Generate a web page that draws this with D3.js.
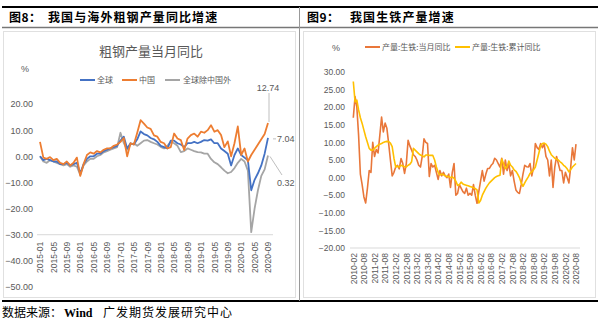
<!DOCTYPE html>
<html><head><meta charset="utf-8">
<script src="https://cdn.jsdelivr.net/npm/d3@7/dist/d3.min.js"></script>
<style>
body{margin:0;background:#fff}
text{font-family:"Liberation Sans",Arial,sans-serif}
.cjk{font-family:"Noto Sans CJK SC","Noto Sans",sans-serif}
</style>
</head><body>
<svg id="c" width="600" height="325"></svg>
<script>
// ---------- Chart 1 data: 粗钢产量当月同比 (2015-01 .. 2020-09) ----------
const fmtM = d3.timeFormat("%Y-%m");
const months1 = d3.timeMonth.range(new Date(2015,0,1), new Date(2020,9,1)).map(fmtM);
const seriesNames1 = ["全球","中国","全球除中国外"];
const global1 = [0,-1.5,-1.0,-1.5,-2.0,-2.0,-3.0,-3.0,-2.5,-3.5,-3.0,-2.5,
  -6.5,-3.0,-1.0,0.0,0.0,1.0,1.0,2.0,2.5,3.0,3.5,4.0,
  6.0,7.5,3.0,5.0,4.5,6.5,9.5,8.5,8.0,7.0,6.5,5.5,
  4.0,3.5,3.0,6.0,6.0,5.0,4.5,3.5,5.0,5.0,5.5,5.0,
  5.5,6.2,6.0,6.5,5.0,5.0,3.0,2.0,1.0,-3.5,0.5,3.0,
  0.5,-0.5,-1.5,-13.0,-9.0,-6.5,-3.5,1.0,7.04];
const china1 = [5.5,-0.5,-1.0,-0.3,-1.5,-1.0,-2.5,-3.0,-2.0,-3.5,-2.5,-0.5,
  -7.5,-3.0,0.5,1.5,1.0,2.0,1.5,2.5,3.0,3.0,4.0,4.5,
  5.5,7.0,0.0,5.0,4.5,9.0,13.8,12.5,11.0,10.5,8.0,7.5,
  5.5,5.0,3.0,3.5,8.7,6.8,6.2,2.4,6.8,8.1,8.7,7.5,
  9.4,9.0,10.0,11.9,9.4,10.0,8.1,3.5,5.7,0.0,5.0,11.4,
  0.5,3.0,-2.0,0.5,2.5,4.5,6.5,8.5,12.74];
const exChina1 = [0,-2.0,-2.5,-1.5,-2.0,-2.5,-3.0,-3.5,-3.0,-4.0,-3.5,-4.0,
  -7.0,-3.5,-2.0,-1.0,-1.0,0.0,0.5,1.5,2.0,2.5,3.0,3.5,
  9.0,5.0,2.5,4.5,5.0,4.0,5.0,6.0,6.2,5.5,5.0,4.5,
  3.6,3.0,4.0,5.5,5.0,4.0,1.6,2.0,3.0,2.5,2.0,1.6,
  1.5,1.0,1.0,-1.0,-2.3,-3.0,-4.2,-5.5,-6.5,-6.0,-4.5,-2.5,
  -1.0,-2.0,-5.5,-29.0,-20.0,-13.0,-7.5,-5.0,0.32];
const yTicks1 = [20,10,0,-10,-20,-30,-40,-50];

// ---------- Chart 2 data: 生铁产量增速 (2010-02 .. 2020-08) ----------
const months2 = d3.timeMonth.range(new Date(2010,1,1), new Date(2020,8,1)).map(fmtM);
const seriesNames2 = ["产量:生铁:当月同比","产量:生铁:累计同比"];
const monthly2 = [17,23,20,12,1,-2,-5.5,-7.2,-3,2,1.5,10,
  6,8,7,12,17.2,13,15.5,14,9.7,5,0.5,1.5,
  3,3.5,2.5,5.4,4,1.2,4,10.6,9,7.8,6.5,6,
  5,3.5,3,6,11,10,9.7,0.3,4,3,3.5,1.5,
  -0.5,2,0.5,1.5,0.5,0,1,-2.8,1.5,4,-5,-4.5,
  -2,-3,-4,-4.5,-3,-5,-4.5,-5,-2,-5,-7.3,-4,
  -1,2,-1,1,2.6,2.6,3.5,4,5.5,5,4,3,
  5.5,1,5,2,4,0.5,2,-1,-3.5,-4.2,-4.5,-2,
  1,3.5,3.1,3,4,0.5,3,9.7,8.5,8,9.7,8.5,
  9.5,6,5,0.5,5,-2.8,3,6,4,2,2,-1.5,
  1.5,0,-1.5,3,8.5,5,9.5];
const cumulative2 = [27.3,21.5,22,19.2,17,15.4,13.5,11.6,10,8.3,7.8,7.8,
  8.3,8.8,9.2,9.5,9.7,10,10.2,10.3,10.2,9.8,8.8,5.5,
  3,3.2,3,3.5,3.3,3.1,3,3.5,3.8,4.5,8.3,7.8,
  7.3,6.8,6.4,6.2,5.9,6.4,6.4,6.3,6.3,6.3,5,3,
  1.5,0.7,1,0.8,0.5,0.3,0.3,0,0.2,-0.2,-1,-2.2,
  -2,-1.3,-1.8,-2,-2.2,-2.3,-2.5,-2.7,-2.9,-3.1,-3.5,-7.2,
  -6.5,-5,-4,-3,-2.2,-1.5,-1,-0.5,0,0.3,0.5,0.7,
  5.3,4,2.5,3,4.7,3.5,3,2.2,1.8,1,0,-1.5,
  -2.5,-1.5,-0.6,0.2,1.2,1.6,2.2,3,5,7,9,9.7,
  9.8,9.5,8.8,7.5,6.5,6,5.5,5.3,5,4.5,4.1,3.5,
  3.1,2.5,1.6,2.3,3,3.5,4];
const yTicks2 = [30,25,20,15,10,5,0,-5,-10,-15,-20];

const svg = d3.select("#c");
const grey = "#595959";

// ---------- frame ----------
svg.append("line").attr("x1",2).attr("x2",598).attr("y1",7).attr("y2",7).attr("stroke","#000").attr("stroke-width",2);
svg.append("line").attr("x1",2).attr("x2",598).attr("y1",27.5).attr("y2",27.5).attr("stroke","#777").attr("stroke-width",1.5);
svg.append("line").attr("x1",2).attr("x2",598).attr("y1",301).attr("y2",301).attr("stroke","#000").attr("stroke-width",2);
svg.append("line").attr("x1",299.5).attr("x2",299.5).attr("y1",7).attr("y2",301).attr("stroke","#999").attr("stroke-width",1);
svg.append("rect").attr("x",3.5).attr("y",31.5).attr("width",292).attr("height",266).attr("fill","none").attr("stroke","#e0e0e0");
svg.append("rect").attr("x",303.5).attr("y",31.5).attr("width",292).attr("height",266).attr("fill","none").attr("stroke","#e0e0e0");

function title(x, t, fs, ls){
  svg.append("text").attr("class","cjk").attr("x",x).attr("y",22).attr("font-size",fs)
    .attr("font-weight","bold").attr("letter-spacing",ls).attr("fill","#000").text(t);
}
title(9,"图8：",12,0.5); title(48,"我国与海外粗钢产量同比增速",12,1.1);
title(307,"图9：",12,0.5); title(350,"我国生铁产量增速",12,1.1);
svg.append("text").attr("class","cjk").attr("x",2).attr("y",317).attr("font-size",12).attr("fill","#000")
  .text("数据来源：").append("tspan").attr("font-family","Liberation Serif").attr("font-weight","bold").attr("dx",2).text("Wind")
svg.append("text").attr("class","cjk").attr("x",103).attr("y",317).attr("font-size",12).attr("letter-spacing",1).attr("fill","#000").text("广发期货发展研究中心");

// ---------- Chart 1 ----------
const x1 = d3.scalePoint().domain(months1).range([40,268]);
const y1 = d3.scaleLinear().domain([-50,20]).range([287,104]);
const g1 = svg.append("g");
g1.append("text").attr("class","cjk").attr("x",151).attr("y",56).attr("text-anchor","middle")
  .attr("font-size",13).attr("fill",grey).text("粗钢产量当月同比");
g1.append("text").attr("x",25).attr("y",72).attr("text-anchor","middle").attr("font-size",9).attr("fill",grey).text("%");
const yAx1 = d3.axisLeft(y1).tickValues(yTicks1).tickFormat(d3.format(".2f")).tickSize(0).tickPadding(0);
g1.append("g").attr("transform","translate(33,0)").call(yAx1)
  .call(g=>g.select(".domain").remove())
  .call(g=>g.selectAll("text").attr("font-size",9).attr("fill",grey).attr("font-family","Liberation Sans Narrow, Liberation Sans"));
const xAx1 = d3.axisBottom(x1).tickValues(months1.filter((d,i)=>i%4===0)).tickSize(0).tickPadding(0);
g1.append("g").attr("transform",`translate(0,${y1(-30)})`).call(xAx1)
  .call(g=>g.select(".domain").attr("d",`M37,0H273`).attr("stroke","#d9d9d9"))
  .call(g=>g.selectAll("text").attr("font-size",8.5).attr("fill",grey).attr("font-family","Liberation Sans Narrow, Liberation Sans")
     .attr("text-anchor","end").attr("dy","0.32em").attr("transform","translate(0,7) rotate(-90)").attr("x",0).attr("y",0));
const cols1 = ["#4472C4","#ED7D31","#A5A5A5"];
const data1 = [global1, china1, exChina1];
const line1 = d3.line().x((d,i)=>x1(months1[i])).y(d=>y1(d));
[2,0,1].forEach(k=>{
  g1.append("path").attr("d",line1(data1[k])).attr("fill","none").attr("stroke",cols1[k]).attr("stroke-width",1.8).attr("stroke-linejoin","round");
});
// legend 1
const leg1x = [80,122,165], leg1tx=[97,139,183];
seriesNames1.forEach((n,k)=>{
  g1.append("line").attr("x1",leg1x[k]).attr("x2",leg1x[k]+15).attr("y1",80).attr("y2",80).attr("stroke",cols1[k]).attr("stroke-width",2);
  g1.append("text").attr("class","cjk").attr("x",leg1tx[k]).attr("y",83).attr("font-size",8).attr("fill",grey).text(n);
});
// data labels
const last = months1.length-1, lx = x1(months1[last]);
g1.append("line").attr("x1",lx+1).attr("x2",lx+1).attr("y1",93).attr("y2",y1(china1[last])-1).attr("stroke","#bfbfbf");
g1.append("text").attr("x",lx).attr("y",91).attr("text-anchor","middle").attr("font-size",9).attr("fill",grey).attr("font-family","Liberation Sans Narrow, Liberation Sans").text(d3.format(".2f")(china1[last]));
g1.append("line").attr("x1",lx+5).attr("x2",lx+8).attr("y1",y1(global1[last])+1).attr("y2",y1(global1[last])+1).attr("stroke","#bfbfbf");
g1.append("text").attr("x",lx+9).attr("y",y1(global1[last])+4).attr("font-size",9).attr("fill",grey).attr("font-family","Liberation Sans Narrow, Liberation Sans").text(d3.format(".2f")(global1[last]));
g1.append("line").attr("x1",lx+2).attr("x2",lx+14).attr("y1",y1(exChina1[last])+1).attr("y2",175).attr("stroke","#bfbfbf");
g1.append("text").attr("x",lx+9).attr("y",186).attr("font-size",9).attr("fill",grey).attr("font-family","Liberation Sans Narrow, Liberation Sans").text(d3.format(".2f")(exChina1[last]));

// ---------- Chart 2 ----------
const x2 = d3.scalePoint().domain(months2).range([353.3,576]);
const y2 = d3.scaleLinear().domain([-20,30]).range([248,72]);
const g2 = svg.append("g");
g2.append("text").attr("x",336).attr("y",51).attr("text-anchor","middle").attr("font-size",9).attr("fill",grey).text("%");
const yAx2 = d3.axisLeft(y2).tickValues(yTicks2).tickFormat(d3.format(".2f")).tickSize(0).tickPadding(0);
g2.append("g").attr("transform","translate(345,0)").call(yAx2)
  .call(g=>g.select(".domain").remove())
  .call(g=>g.selectAll("text").attr("font-size",8.5).attr("fill",grey).attr("font-family","Liberation Sans Narrow, Liberation Sans"));
const xAx2 = d3.axisBottom(x2).tickValues(months2.filter((d,i)=>i%6===0)).tickSize(0).tickPadding(0);
g2.append("g").attr("transform",`translate(0,${y2(-20)})`).call(xAx2)
  .call(g=>g.select(".domain").attr("d",`M350,0H580`).attr("stroke","#d9d9d9"))
  .call(g=>g.selectAll("text").attr("font-size",8.5).attr("fill",grey).attr("font-family","Liberation Sans Narrow, Liberation Sans")
     .attr("text-anchor","end").attr("dy","0.32em").attr("transform","translate(0,5) rotate(-90)").attr("x",0).attr("y",0));
const cols2 = ["#E9773A","#FFC000"];
const data2 = [monthly2, cumulative2];
const line2 = d3.line().x((d,i)=>x2(months2[i])).y(d=>y2(d));
[0,1].forEach(k=>{
  g2.append("path").attr("d",line2(data2[k])).attr("fill","none").attr("stroke",cols2[k]).attr("stroke-width",1.6).attr("stroke-linejoin","round");
});
const leg2x=[365,455], leg2tx=[382,472];
seriesNames2.forEach((n,k)=>{
  g2.append("line").attr("x1",leg2x[k]).attr("x2",leg2x[k]+15).attr("y1",47).attr("y2",47).attr("stroke",cols2[k]).attr("stroke-width",2);
  g2.append("text").attr("class","cjk").attr("x",leg2tx[k]).attr("y",50).attr("font-size",8).attr("fill",grey).text(n);
});
</script>
</body></html>
